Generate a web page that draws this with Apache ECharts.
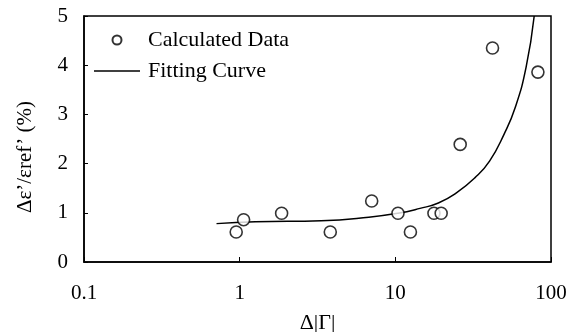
<!DOCTYPE html>
<html>
<head>
<meta charset="utf-8">
<script src="https://cdn.jsdelivr.net/npm/echarts@6/dist/echarts.min.js"></script>
<style>
  html, body { margin: 0; padding: 0; background: #fff; }
  #chart { width: 572px; height: 332px; }
</style>
</head>
<body>
<div id="chart"></div>
<script>
// calculated data points (x = Δ|Γ|, y = Δε'/εref' in %)
var calcX = [0.95, 1.06, 1.86, 3.82, 7.05, 10.4, 12.5, 17.7, 19.7, 26.1, 42.1, 82.4];
var calcY = [0.61, 0.86, 0.99, 0.61, 1.24, 0.99, 0.61, 0.99, 0.99, 2.39, 4.35, 3.86];

// fitting curve
var fitX = [0.71, 1.26, 3.34, 6.75, 10.4, 14.4, 18.9, 24.8, 32.4, 40.3, 50.0, 58.9, 69.2, 78.0];
var fitY = [0.78, 0.82, 0.84, 0.91, 0.99, 1.09, 1.20, 1.41, 1.71, 2.05, 2.60, 3.14, 3.96, 5.0];

var xTicks = ["0.1", "1", "10", "100"];

var font = "Liberation Serif";

function pairs(xs, ys) {
  var out = [];
  for (var i = 0; i < xs.length; i++) out.push([xs[i], ys[i]]);
  return out;
}

var chart = echarts.init(document.getElementById("chart"));

var option = {
  backgroundColor: "#fff",
  animation: false,
  grid: {
    left: 84,
    right: 21,
    top: 16,
    bottom: 70,
    outerBoundsMode: "none",
    show: true,
    borderColor: "#000",
    borderWidth: 1.5
  },
  legend: {
    orient: "vertical",
    left: 89,
    top: 24,
    itemWidth: 46,
    itemHeight: 9,
    itemGap: 9,
    textStyle: { fontFamily: font, fontSize: 22, color: "#000", padding: [0, 0, 0, 3] },
    data: [
      { name: "Calculated Data", icon: "circle" },
      { name: "Fitting Curve", icon: "path://M0,0 L46,0 L46,1.5 L0,1.5 Z", itemStyle: { color: "#000" } }
    ]
  },
  xAxis: {
    type: "log",
    logBase: 10,
    min: 0.1,
    max: 100,
    name: "Δ|Γ|",
    nameLocation: "middle",
    nameGap: 50,
    nameTextStyle: { fontFamily: font, fontSize: 22, color: "#000" },
    axisLine: { lineStyle: { color: "#000", width: 1.5 } },
    axisTick: { inside: true, length: 5, lineStyle: { color: "#000" } },
    minorTick: { show: false },
    splitLine: { show: false },
    axisLabel: {
      margin: 21,
      fontFamily: font,
      fontSize: 21,
      color: "#000",
      formatter: function (v) {
        var i = Math.round(Math.log10(v)) + 1;
        return xTicks[i] !== undefined ? xTicks[i] : "";
      }
    }
  },
  yAxis: {
    type: "value",
    min: 0,
    max: 5,
    interval: 1,
    name: "Δε’/εref’ (%)",
    nameLocation: "middle",
    nameGap: 48,
    nameTextStyle: { fontFamily: font, fontSize: 21, color: "#000", padding: [0, 36, 0, 0] },
    axisLine: { show: true, lineStyle: { color: "#000", width: 1.5 } },
    axisTick: { show: true, inside: true, length: 4, lineStyle: { color: "#000" } },
    splitLine: { show: false },
    axisLabel: { margin: 16, fontFamily: font, fontSize: 21, color: "#000" }
  },
  series: [
    {
      name: "Calculated Data",
      type: "scatter",
      symbol: "circle",
      symbolSize: 12,
      itemStyle: { color: "#fff", borderColor: "#000", borderWidth: 1.6 },
      data: pairs(calcX, calcY),
      z: 3
    },
    {
      name: "Fitting Curve",
      type: "line",
      smooth: true,
      symbol: "none",
      lineStyle: { color: "#000", width: 1.5 },
      itemStyle: { color: "#000" },
      data: pairs(fitX, fitY),
      z: 2
    }
  ]
};

chart.setOption(option);
</script>
</body>
</html>
